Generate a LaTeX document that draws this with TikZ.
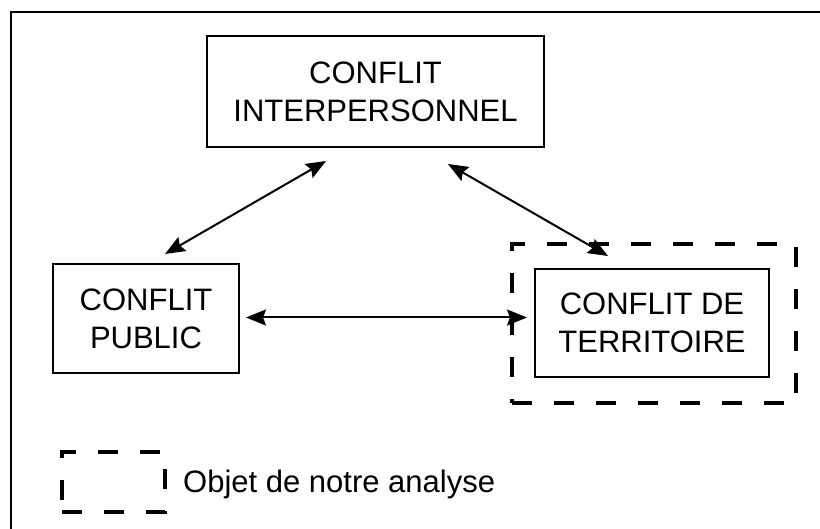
\documentclass[tikz,border=0pt]{standalone}
\usepackage{fontspec}
\setmainfont{Liberation Sans}
\usetikzlibrary{arrows.meta,positioning}
\tikzset{every conflit/.style={draw, line width=2pt, align=center, inner sep=0pt,
                               font=\fontsize{31}{38}\selectfont},
        every objet/.style={draw, line width=4pt, dash pattern=on 20pt off 22pt,
                            inner sep=0pt},
        lien/.style={line width=2pt, {Stealth[length=20pt,width=16pt,inset=3pt]}-{Stealth[length=20pt,width=16pt,inset=3pt]}},
        }

\begin{document}
\begin{tikzpicture}[x=1pt,y=-1pt]
    \useasboundingbox (0,0) rectangle (820,529);
    % cadre (seulement gauche et haut)
    \draw [line width=2.5pt] (11,529) -- (11,12) -- (820,12);

    \node [every conflit, minimum width=337pt, minimum height=111pt] (Inter) at (375.5,91.5)
        {CONFLIT\\INTERPERSONNEL};
    \node [every conflit, minimum width=186pt, minimum height=109pt] (Public) at (146,318.5)
        {CONFLIT\\PUBLIC};
    \node [every conflit, minimum width=234pt, minimum height=108pt] (Territoire) at (652,323)
        {CONFLIT DE\\TERRITOIRE};

    \node [every objet, minimum width=284pt, minimum height=159pt] (Objet) at (654,323.5) {};

    \draw [lien] ([shift={(19,-9)}]Public.north) -- ([shift={(-49.5,13)}]Inter.south);
    \draw [lien] ([shift={(72.5,16)}]Inter.south) -- ([shift={(-44,-12)}]Territoire.north);
    \draw [lien] ([shift={(6,-1)}]Public.east) -- ([shift={(-7,-1)}]Public.east -| Territoire.west);

    % legende
    \node [every objet, minimum width=103pt, minimum height=60pt] (Legende) at (113.5,482) {};
    \node [font=\fontsize{31}{38}\selectfont, inner sep=0pt, anchor=base west] (LegendeTexte)
        at (183,493) {Objet de notre analyse};
\end{tikzpicture}
\end{document}
